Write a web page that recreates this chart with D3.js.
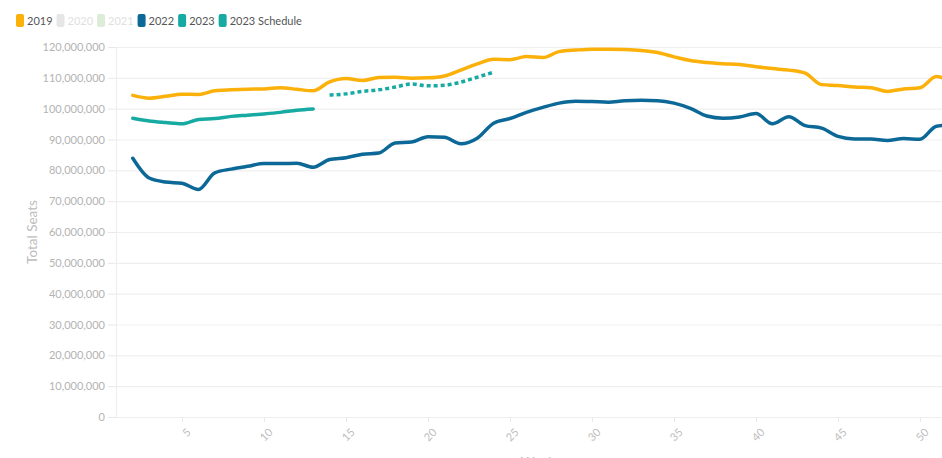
<!DOCTYPE html>
<html>
<head>
<meta charset="utf-8">
<script src="https://cdn.jsdelivr.net/npm/d3@7"></script>
<style>
  body { margin: 0; background: #fff; }
  svg { display: block; font-family: Lato, "Noto Sans", sans-serif; }
</style>
</head>
<body>
<svg id="chart" width="942" height="458"></svg>
<script>
// Weekly total seats, in millions
var weeks = d3.range(2, 53);

var seats_2019 = [104.3, 103.4, 104.0, 104.7, 104.6, 105.8, 106.1, 106.3, 106.4, 106.8,
  106.3, 105.8, 108.7, 109.8, 109.1, 110.1, 110.2, 109.9, 110.0, 110.6,
  112.5, 114.5, 116.0, 115.9, 116.9, 116.6, 118.5, 119.0, 119.3, 119.3,
  119.2, 118.9, 118.2, 116.8, 115.6, 115.0, 114.6, 114.3, 113.6, 113.0,
  112.5, 111.5, 107.8, 107.5, 107.0, 106.8, 105.6, 106.4, 106.8, 110.4, 108.6];

var seats_2022 = [83.9, 77.5, 76.2, 75.8, 73.8, 79.2, 80.4, 81.3, 82.2, 82.2,
  82.3, 81.0, 83.5, 84.1, 85.2, 85.6, 88.9, 89.2, 90.9, 90.7,
  88.6, 90.4, 95.3, 96.8, 98.8, 100.4, 101.8, 102.4, 102.3, 102.1,
  102.6, 102.7, 102.6, 101.8, 100.1, 97.6, 96.9, 97.3, 98.4, 95.1,
  97.4, 94.5, 93.7, 91.0, 90.2, 90.2, 89.7, 90.3, 90.1, 94.3, 94.8];

var weeks_2023 = d3.range(2, 14);
var seats_2023 = [96.9, 96.0, 95.5, 95.1, 96.5, 96.8, 97.5, 97.9, 98.3, 98.8, 99.5, 99.9];

var weeks_sched = d3.range(14, 25);
var seats_sched = [104.4, 104.8, 105.6, 106.1, 107.0, 108.0, 107.4, 107.6, 108.6, 110.2, 111.8];

var legend_items = ["2019", "2020", "2021", "2022", "2023", "2023 Schedule"];
var legend_colors = ["#fbb00a", "#e6e6e6", "#dcecd8", "#0c6897", "#17aaa2", "#17aaa2"];
var legend_active = [true, false, false, true, true, true];

var y_ticks = d3.range(0, 130, 10);
var x_ticks = [5, 10, 15, 20, 25, 30, 35, 40, 45, 50];

var width = 942, height = 458;
var margin = {left: 116, top: 47, bottom: 417};

var svg = d3.select("#chart");

// scales
var x = d3.scaleLinear().domain([1, 52]).range([margin.left + 0.4, margin.left + 0.4 + 51 * 16.4]);
var y = d3.scaleLinear().domain([0, 120]).range([margin.bottom, margin.top]);

// grid lines
svg.append("g")
  .selectAll("line")
  .data(y_ticks)
  .enter()
  .append("line")
    .attr("x1", margin.left)
    .attr("x2", width)
    .attr("y1", d => y(d) + 0.5)
    .attr("y2", d => y(d) + 0.5)
    .attr("stroke", "#efefef")
    .attr("stroke-width", 1.2);

svg.append("line")
  .attr("x1", margin.left + 0.5).attr("x2", margin.left + 0.5)
  .attr("y1", y(120)).attr("y2", y(0))
  .attr("stroke", "#efefef").attr("stroke-width", 1.2);

// y axis
var yAxis = svg.append("g")
  .attr("transform", "translate(" + margin.left + ",0)")
  .call(d3.axisLeft(y)
    .tickValues(y_ticks)
    .tickSize(8)
    .tickPadding(3)
    .tickFormat(d => d3.format(",")(d * 1e6)));
yAxis.select(".domain").remove();
yAxis.selectAll(".tick line").attr("stroke", "#e8e8e8");
yAxis.selectAll(".tick text")
  .attr("fill", "#b3b3b3")
  .style("font-size", "11px")
  .style("font-family", "Lato, sans-serif");

// x axis
var xAxis = svg.append("g")
  .attr("transform", "translate(0," + y(0) + ")")
  .call(d3.axisBottom(x).tickValues(x_ticks).tickSize(5).tickPadding(4));
xAxis.select(".domain").remove();
xAxis.selectAll(".tick line").attr("stroke", "#e8e8e8");
xAxis.selectAll(".tick text")
  .attr("fill", "#bdbdbd")
  .style("font-size", "11px")
  .style("font-family", "Lato, sans-serif")
  .attr("text-anchor", "end")
  .attr("dy", "0.35em")
  .attr("transform", "translate(0,7) rotate(-45)");

// axis titles
svg.append("text")
  .attr("transform", "translate(37," + 232 + ") rotate(-90)")
  .attr("text-anchor", "middle")
  .attr("fill", "#bdbdbd")
  .style("font-size", "13.5px")
  .text("Total Seats");

svg.append("text")
  .attr("x", 538)
  .attr("y", 467)
  .attr("text-anchor", "middle")
  .attr("fill", "#bdbdbd")
  .style("font-size", "13.5px")
  .text("Week");

// lines
var line = d3.line()
  .x(d => x(d[0]))
  .y(d => y(d[1]))
  .curve(d3.curveMonotoneX);

function draw_series(wks, vals, color, dash) {
  var path = svg.append("path")
    .datum(wks.map((w, i) => [w, vals[i]]))
    .attr("fill", "none")
    .attr("stroke", color)
    .attr("stroke-width", 3.5)
    .attr("stroke-linejoin", "round")
    .attr("d", line);
  if (dash) path.attr("stroke-dasharray", "4,3");
  else path.attr("stroke-linecap", "round");
}

draw_series(weeks, seats_2019, legend_colors[0]);
draw_series(weeks, seats_2022, legend_colors[3]);
draw_series(weeks_2023, seats_2023, legend_colors[4]);
draw_series(weeks_sched, seats_sched, legend_colors[5], true);

// legend
var legend = svg.append("g").attr("transform", "translate(16,14)");
var lx = 0;
legend_items.forEach(function(label, i) {
  var g = legend.append("g").attr("transform", "translate(" + lx + ",0)");
  g.append("rect")
    .attr("width", 8).attr("height", 13)
    .attr("rx", 2).attr("ry", 2)
    .attr("fill", legend_colors[i]);
  var t = g.append("text")
    .attr("x", 11).attr("y", 10.5)
    .attr("fill", legend_active[i] ? "#555" : "#e0e0e0")
    .style("font-size", "11px")
    .text(label);
  lx += 11 + t.node().getComputedTextLength() + 4;
});
</script>
</body>
</html>
